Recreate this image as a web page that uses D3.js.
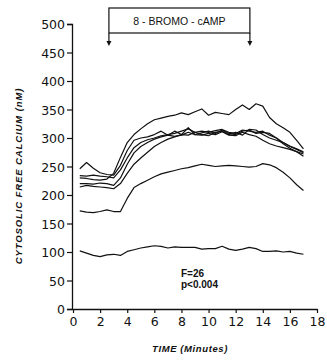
<!DOCTYPE html>
<html>
<head>
<meta charset="utf-8">
<script src="https://cdn.jsdelivr.net/npm/d3@7"></script>
<style>
  body { margin: 0; background: #fff; }
  svg { font-family: "Liberation Sans", Arial, sans-serif; }
</style>
</head>
<body>
<svg></svg>
<script>
var width = 327;
var height = 360;

// time points (minutes)
var times = [0.5, 1, 1.5, 2, 2.5, 3, 3.5, 4, 4.5, 5, 5.5, 6, 6.5, 7, 7.5, 8, 8.5,
    9, 9.5, 10, 10.5, 11, 11.5, 12, 12.5, 13, 13.5, 14, 14.5, 15, 15.5, 16, 16.5, 17];

// one array per cell trace (nM)
var traceA = [230, 229, 227, 226, 228, 238, 266, 292, 306, 316, 325, 332, 335, 338, 340, 344, 341,
    346, 351, 340, 345, 343, 341, 350, 358, 350, 360, 356, 336, 325, 318, 310, 296, 281];
var traceB = [246, 257, 247, 239, 236, 235, 252, 278, 296, 300, 302, 306, 312, 305, 303, 305, 310,
    306, 305, 308, 306, 311, 305, 304, 310, 306, 303, 296, 290, 286, 283, 280, 276, 272];
var traceC = [234, 233, 235, 233, 232, 230, 244, 265, 283, 292, 297, 300, 304, 306, 308, 312, 316,
    310, 312, 310, 313, 315, 310, 308, 314, 312, 310, 312, 305, 300, 292, 285, 280, 274];
var traceD = [220, 220, 219, 221, 220, 217, 230, 254, 274, 285, 292, 298, 302, 305, 312, 306, 318,
    306, 309, 312, 308, 314, 308, 306, 312, 314, 308, 310, 308, 300, 290, 282, 276, 268];
var traceE = [214, 217, 215, 214, 213, 211, 220, 238, 254, 265, 275, 285, 292, 298, 302, 306, 305,
    310, 306, 304, 310, 312, 306, 310, 305, 315, 314, 306, 300, 296, 292, 286, 281, 276];
var traceF = [172, 170, 169, 171, 174, 171, 171, 194, 213, 220, 226, 232, 237, 240, 243, 246, 248,
    251, 254, 252, 250, 251, 252, 251, 250, 249, 250, 255, 253, 248, 240, 230, 218, 208];
var traceG = [102, 98, 94, 92, 95, 96, 94, 101, 104, 107, 109, 111, 110, 107, 109, 108, 108,
    108, 105, 106, 106, 110, 105, 103, 105, 108, 106, 101, 101, 102, 100, 101, 98, 96];

var traces = [traceA, traceB, traceC, traceD, traceE, traceF, traceG];

var xTicks = [0, 2, 4, 6, 8, 10, 12, 14, 16, 18];
var yTicks = [0, 50, 100, 150, 200, 250, 300, 350, 400, 450, 500];

// 8-bromo-cAMP exposure (minutes)
var stimStart = 2.65;
var stimEnd = 13.05;
var stimLabel = "8 - BROMO - cAMP";
var statLines = ["F=26", "p<0.004"];

var svg = d3.select("svg")
    .attr("width", width)
    .attr("height", height);

var x = d3.scaleLinear()
    .domain([0, 18])
    .range([73, 317]);

var y = d3.scaleLinear()
    .domain([0, 500])
    .range([309, 24]);

// y axis
var yAxis = svg.append("g")
    .attr("transform", "translate(72,0)")
    .call(d3.axisLeft(y)
        .tickValues(yTicks)
        .tickSize(5)
        .tickPadding(2)
        .tickSizeOuter(5));
yAxis.selectAll("text")
    .style("font-family", "'DejaVu Sans', sans-serif")
    .style("font-size", "12.5px")
    .attr("dy", "0.36em")
    .attr("fill", "#111");

// x axis
var xAxis = svg.append("g")
    .attr("transform", "translate(0,309)")
    .call(d3.axisBottom(x)
        .tickValues(xTicks)
        .tickSize(4)
        .tickPadding(4)
        .tickSizeOuter(0));
xAxis.selectAll("text")
    .style("font-family", "'DejaVu Sans', sans-serif")
    .style("font-size", "12.5px")
    .attr("fill", "#111");
svg.selectAll(".domain").attr("stroke", "#111").attr("stroke-width", 1.3);
svg.selectAll(".tick line").attr("stroke", "#111").attr("stroke-width", 1.2);

// traces
var line = d3.line()
    .x(function(d, i) { return x(times[i]); })
    .y(function(d) { return y(d); });

svg.selectAll(".trace")
    .data(traces)
    .enter().append("path")
    .attr("class", "trace")
    .attr("d", line)
    .attr("fill", "none")
    .attr("stroke", "#111")
    .attr("stroke-width", 1.2)
    .attr("stroke-linejoin", "round");

// stimulus box with arrows
var bx0 = x(stimStart), bx1 = x(stimEnd);
svg.append("rect")
    .attr("x", bx0)
    .attr("y", 8)
    .attr("width", bx1 - bx0)
    .attr("height", 25)
    .attr("fill", "none")
    .attr("stroke", "#111")
    .attr("stroke-width", 1.2);

svg.append("text")
    .attr("x", (bx0 + bx1) / 2)
    .attr("y", 25)
    .attr("text-anchor", "middle")
    .style("font-size", "10.5px")
    .attr("fill", "#111")
    .text(stimLabel);

[bx0, bx1].forEach(function(bx) {
    svg.append("line")
        .attr("x1", bx).attr("x2", bx)
        .attr("y1", 33).attr("y2", 43)
        .attr("stroke", "#111")
        .attr("stroke-width", 1.2);
    svg.append("path")
        .attr("d", "M" + (bx - 2.5) + ",41 L" + (bx + 2.5) + ",41 L" + bx + ",46 Z")
        .attr("fill", "#111");
});

// statistics
svg.selectAll(".stat")
    .data(statLines)
    .enter().append("text")
    .attr("class", "stat")
    .attr("x", 181)
    .attr("y", function(d, i) { return 277 + i * 11; })
    .style("font-size", "10px")
    .style("font-weight", "bold")
    .attr("fill", "#111")
    .text(function(d) { return d; });

// axis titles
svg.append("text")
    .attr("transform", "translate(22,176) rotate(-90)")
    .attr("text-anchor", "middle")
    .style("font-size", "9.5px")
    .style("font-weight", "bold")
    .style("font-style", "italic")
    .style("letter-spacing", "0.9px")
    .attr("fill", "#111")
    .text("CYTOSOLIC FREE CALCIUM (nM)");

svg.append("text")
    .attr("x", 190)
    .attr("y", 352)
    .attr("text-anchor", "middle")
    .style("font-size", "9.5px")
    .style("font-weight", "bold")
    .style("font-style", "italic")
    .style("letter-spacing", "0.6px")
    .attr("fill", "#111")
    .text("TIME (Minutes)");
</script>
</body>
</html>
